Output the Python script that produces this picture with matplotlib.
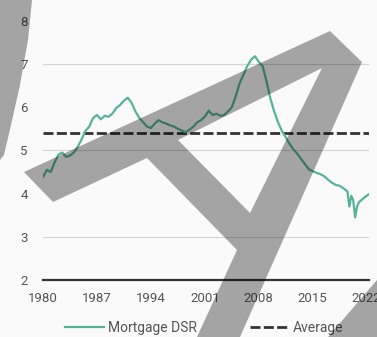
import matplotlib
matplotlib.use("Agg")
import matplotlib.pyplot as plt
from matplotlib.path import Path
from matplotlib.patches import PathPatch
from matplotlib.transforms import Affine2D
from matplotlib.lines import Line2D

# Mortgage debt-service ratio (%), read at roughly half-year steps
years = [1980.0, 1980.5, 1981.0, 1981.5, 1982.0, 1982.5, 1983.0, 1983.5, 1984.0, 1984.5,
         1985.0, 1985.5, 1986.0, 1986.5, 1987.0, 1987.5, 1988.0, 1988.5, 1989.0, 1989.5,
         1990.0, 1990.5, 1991.0, 1991.5, 1992.0, 1992.5, 1993.0, 1993.5, 1994.0, 1994.5,
         1995.0, 1995.5, 1996.0, 1996.5, 1997.0, 1997.5, 1998.0, 1998.5, 1999.0, 1999.5,
         2000.0, 2000.5, 2001.0, 2001.5, 2002.0, 2002.5, 2003.0, 2003.5, 2004.0, 2004.5,
         2005.0, 2005.5, 2006.0, 2006.5, 2007.0, 2007.5, 2008.0, 2008.5, 2009.0, 2009.5,
         2010.0, 2010.5, 2011.0, 2011.5, 2012.0, 2012.5, 2013.0, 2013.5, 2014.0, 2014.5,
         2015.0, 2015.5, 2016.0, 2016.5, 2017.0, 2017.5, 2018.0, 2018.5, 2019.0, 2019.5,
         2019.75, 2020.0, 2020.25, 2020.5, 2020.75, 2021.0, 2021.5, 2022.0, 2022.4]
dsr = [4.38, 4.55, 4.50, 4.72, 4.90, 4.95, 4.85, 4.88, 4.95, 5.08,
       5.25, 5.45, 5.55, 5.75, 5.82, 5.72, 5.80, 5.78, 5.85, 5.98,
       6.05, 6.15, 6.22, 6.10, 5.90, 5.75, 5.65, 5.55, 5.52, 5.62,
       5.70, 5.65, 5.62, 5.58, 5.55, 5.50, 5.46, 5.42, 5.48, 5.55,
       5.65, 5.70, 5.78, 5.92, 5.82, 5.85, 5.80, 5.82, 5.90, 6.00,
       6.25, 6.55, 6.75, 6.95, 7.10, 7.18, 7.05, 6.95, 6.60, 6.20,
       5.90, 5.65, 5.45, 5.30, 5.15, 5.02, 4.92, 4.80, 4.68, 4.56,
       4.52, 4.48, 4.45, 4.40, 4.32, 4.25, 4.20, 4.18, 4.12, 4.05,
       3.70, 3.95, 3.85, 3.45, 3.70, 3.80, 3.88, 3.95, 4.00]
average = 5.4

x_ticks = [1980, 1987, 1994, 2001, 2008, 2015, 2022]
y_ticks = [2, 3, 4, 5, 6, 7, 8]
grid_levels = [3, 5, 7]

W, H = 377, 337
fig = plt.figure(figsize=(W / 100, H / 100), dpi=100, facecolor="#fafafa")
ax = fig.add_axes([43 / W, 1 - 280 / H, (369 - 43) / W, (280 - 20.8) / H])
ax.set_facecolor("#fafafa")

font = "Roboto"
txt_color = "#555555"

for g in grid_levels:
    ax.axhline(g, color="#d4d4d4", lw=0.8, zorder=1)

ax.plot(years, dsr, color="#56b39a", lw=1.6, zorder=3, label="Mortgage DSR")
ax.axhline(average, color="#333333", lw=2.0, linestyle=(0, (3.6, 1.2)), zorder=2,
           label="Average")

ax.set_xlim(1980, 2022.3)
ax.set_ylim(2, 8)
ax.set_xticks(x_ticks)
ax.set_yticks(y_ticks)
ax.set_xticklabels([str(v) for v in x_ticks], fontfamily=font, fontsize=9.5, color=txt_color)
ax.set_yticklabels([str(v) for v in y_ticks], fontfamily=font, fontsize=9.5, color=txt_color)
ax.tick_params(axis="both", length=0)
ax.tick_params(axis="y", pad=11)
ax.tick_params(axis="x", pad=9)

for side in ["top", "right", "left"]:
    ax.spines[side].set_visible(False)
ax.spines["bottom"].set_color("#333333")
ax.spines["bottom"].set_linewidth(1.6)

handles = [Line2D([], [], color="#56b39a", lw=1.6),
           Line2D([], [], color="#333333", lw=2.0, linestyle=(0, (3.6, 1.2)))]
fig.legend(handles, ["Mortgage DSR", "Average"], loc="center",
           bbox_to_anchor=(204 / W, 1 - 328 / H), ncol=2, frameon=False,
           handlelength=2.8, handletextpad=0.3, columnspacing=3.8,
           prop={"family": font, "size": 10}, labelcolor=txt_color)

# Translucent "A" watermark drawn over the figure, in pixel coordinates
px = Affine2D().scale(1 / W, -1 / H).translate(0, 1) + fig.transFigure

outer = [(24, 172), (330, 31), (362, 62), (240, 337), (197, 337),
         (237, 250), (147, 158), (53, 202), (24, 172)]
hole = [(178, 140), (250, 213), (322, 68), (178, 140)]
verts = outer + hole
codes = ([Path.MOVETO] + [Path.LINETO] * (len(outer) - 2) + [Path.CLOSEPOLY] +
         [Path.MOVETO] + [Path.LINETO] * (len(hole) - 2) + [Path.CLOSEPOLY])
wm_style = dict(facecolor="black", edgecolor="none", alpha=0.34, transform=px, zorder=20)
fig.add_artist(PathPatch(Path(verts, codes), **wm_style))

left_strip = [(0, 0), (32, 0), (28, 40), (20, 85), (11, 125), (4, 155), (0, 160), (0, 0)]
fig.add_artist(PathPatch(Path(left_strip, closed=True), **wm_style))

corner = [(377, 280), (377, 337), (328, 337), (377, 280)]
fig.add_artist(PathPatch(Path(corner, closed=True), **wm_style))

fig.savefig("out.png", dpi=100, facecolor=fig.get_facecolor())
